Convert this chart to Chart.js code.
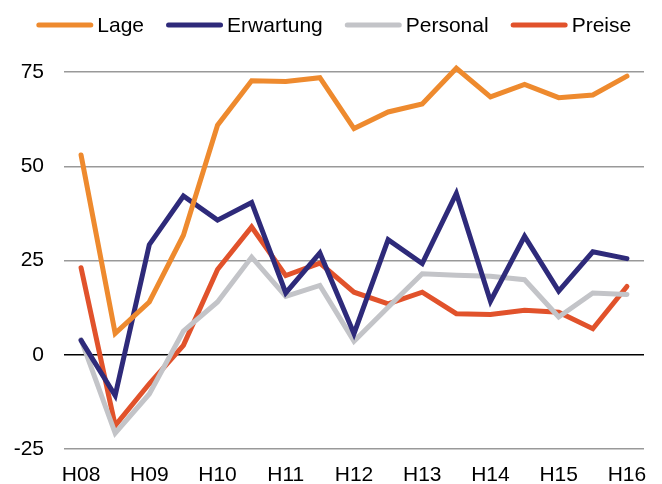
<!DOCTYPE html>
<html><head><meta charset="utf-8">
<script src="https://cdn.jsdelivr.net/npm/chart.js@4"></script>
<style>html,body{margin:0;padding:0;background:#fff}canvas{display:block}</style>
</head><body>
<canvas id="c" width="662" height="484"></canvas>
<script>
const categories = ['H08','','H09','','H10','','H11','','H12','','H13','','H14','','H15','','H16'];
const lage       = [53, 5.7, 14, 31.7, 60.9, 72.7, 72.5, 73.5, 60.0, 64.4, 66.5, 76, 68.4, 71.7, 68.2, 68.9, 73.9];
const erwartung  = [3.8, -10.8, 29.2, 42.1, 35.7, 40.4, 16.4, 27, 5.6, 30.5, 24.2, 42.8, 14.2, 31.4, 16.9, 27.3, 25.5];
const personal   = [4, -20.8, -10.4, 6.3, 14, 25.9, 15.5, 18.4, 3.6, 12.6, 21.5, 21.1, 20.8, 19.9, 10, 16.4, 16];
const preise     = [23.1, -18.8, -7.7, 2.5, 22.6, 33.9, 21, 24.3, 16.6, 13.5, 16.6, 10.9, 10.7, 11.8, 11.3, 6.9, 18.1];
const yTicks = [-25, 0, 25, 50, 75];

const FONT = 'Liberation Sans, Arial, sans-serif';
const FS = 21;
function ds(label, data, color){
  return {label, data, borderColor: color, backgroundColor: color, borderWidth: 5,
    pointRadius: 0, pointHoverRadius: 0, tension: 0, fill: false, clip: false,
    borderCapStyle: 'round', borderJoinStyle: 'miter'};
}
// Legend drawn from the chart's own dataset labels and colours
const lineLegend = {
  id: 'lineLegend',
  afterDraw(chart) {
    const ctx = chart.ctx;
    const LINE = 52, GAP = 6.5, SPACE = 24.5, CY = 25;
    ctx.save();
    ctx.font = FS + 'px ' + FONT;
    const items = chart.data.datasets.map(d => ({d, w: ctx.measureText(d.label).width}));
    const total = items.reduce((s, it) => s + LINE + GAP + it.w, 0) + SPACE * (items.length - 1);
    let x = 335 - total / 2;
    ctx.textBaseline = 'middle';
    ctx.textAlign = 'left';
    for (const it of items) {
      ctx.strokeStyle = it.d.borderColor;
      ctx.lineWidth = 5;
      ctx.lineCap = 'round';
      ctx.beginPath();
      ctx.moveTo(x, CY);
      ctx.lineTo(x + LINE, CY);
      ctx.stroke();
      ctx.fillStyle = '#000';
      ctx.fillText(it.d.label, x + LINE + GAP, CY + 1);
      x += LINE + GAP + it.w + SPACE;
    }
    ctx.restore();
  }
};
new Chart(document.getElementById('c'), {
  type: 'line',
  data: {
    labels: categories,
    datasets: [
      ds('Lage', lage, '#EE8A2E'),
      ds('Erwartung', erwartung, '#2E2A7A'),
      ds('Personal', personal, '#C3C4C8'),
      ds('Preise', preise, '#E1522B')
    ]
  },
  plugins: [lineLegend],
  options: {
    responsive: false, animation: false,
    layout: {padding: {left: 0, right: 18, top: 72, bottom: 0}},
    plugins: {
      tooltip: {enabled: false},
      legend: {display: false}
    },
    scales: {
      x: {
        offset: true,
        grid: {display: false, drawTicks: false},
        border: {display: false},
        afterFit: (a) => { a.height = 35; },
        ticks: {autoSkip: false, maxRotation: 0, font: {family: FONT, size: FS}, color: '#000', padding: 14}
      },
      y: {
        min: -25, max: 75,
        afterBuildTicks: (axis) => { axis.ticks = yTicks.map(v => ({value: v})); },
        afterFit: (a) => { a.width = 64; },
        grid: {drawTicks: false, color: (c) => c.tick && c.tick.value === 0 ? '#000' : '#999', lineWidth: 1.5},
        border: {display: false},
        ticks: {font: {family: FONT, size: FS}, color: '#000', padding: 20}
      }
    }
  }
});
</script>
</body></html>
